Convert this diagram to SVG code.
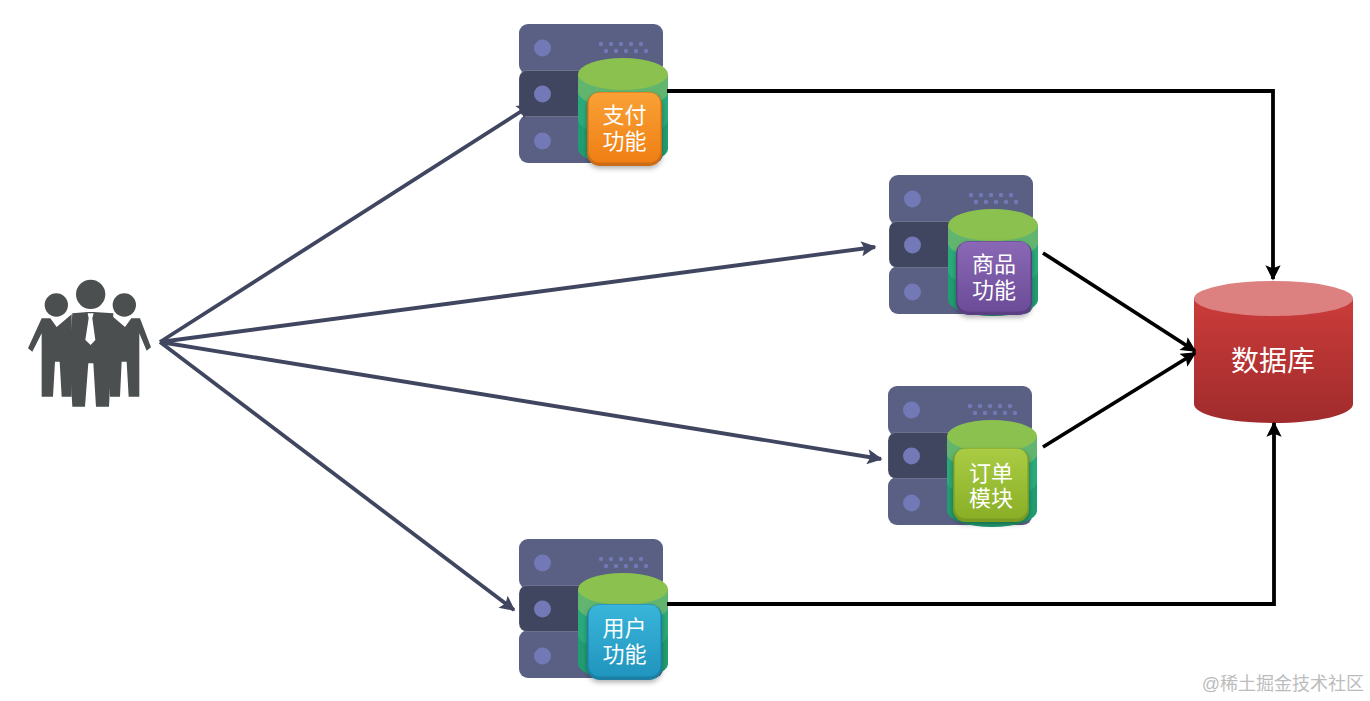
<svg xmlns="http://www.w3.org/2000/svg" xmlns:xlink="http://www.w3.org/1999/xlink" width="1370" height="701" viewBox="0 0 1370 701">
<style>
text{font-family:"Liberation Sans","Noto Sans CJK SC",sans-serif;fill:#fff;text-anchor:middle}
.t{font-size:22px}
.db{font-size:28px}
.wm{font-size:18px;fill:#bcbcbc;text-anchor:end}
.blue{fill:none;stroke:#40465f;stroke-width:3.8}
.blk{fill:none;stroke:#000;stroke-width:3.8}
.dot{fill:#7279b6}
.sm{fill:#7279b6}
.person{fill:#4b4f50}
</style>
<defs>
<marker id="ah" viewBox="0 0 10 10" refX="9" refY="5" markerWidth="4.6" markerHeight="4" orient="auto" markerUnits="strokeWidth"><path d="M0 0L10 5L0 10L2 5Z" fill="#40465f"/></marker>
<marker id="ak" viewBox="0 0 10 10" refX="9" refY="5" markerWidth="4.6" markerHeight="4" orient="auto" markerUnits="strokeWidth"><path d="M0 0L10 5L0 10L2 5Z" fill="#000"/></marker>
<linearGradient id="gO" x1="0" y1="0" x2="0" y2="1"><stop offset="0" stop-color="#f9a136"/><stop offset="1" stop-color="#ef7f14"/></linearGradient>
<linearGradient id="gP" x1="0" y1="0" x2="0" y2="1"><stop offset="0" stop-color="#8a68b5"/><stop offset="1" stop-color="#6c4c98"/></linearGradient>
<linearGradient id="gG" x1="0" y1="0" x2="0" y2="1"><stop offset="0" stop-color="#a9cc44"/><stop offset="1" stop-color="#8aaf27"/></linearGradient>
<linearGradient id="gB" x1="0" y1="0" x2="0" y2="1"><stop offset="0" stop-color="#3ab5da"/><stop offset="1" stop-color="#2095bf"/></linearGradient>
<linearGradient id="gR" x1="0" y1="0" x2="0" y2="1"><stop offset="0" stop-color="#cb3c3a"/><stop offset="1" stop-color="#a02b2c"/></linearGradient>
<filter id="sh" x="-20%" y="-20%" width="140%" height="140%"><feDropShadow dx="0" dy="2.500" stdDeviation="2.500" flood-color="#000" flood-opacity=".3"/></filter>
<g id="srv">
<rect x="0" y="0" width="144" height="50" rx="9" fill="#596084"/>
<rect x="0" y="91" width="144" height="48" rx="9" fill="#596084"/>
<rect x="0" y="46.500" width="144" height="46" rx="8" fill="#40465f" stroke="#fff" stroke-opacity=".18"/>
<circle class="dot" cx="23.500" cy="24" r="8.500"/>
<circle class="dot" cx="23.500" cy="70" r="8.500"/>
<circle class="dot" cx="23.500" cy="117" r="8.500"/>
<g class="sm"><circle cx="82" cy="20" r="2.200"/><circle cx="92" cy="20" r="2.200"/><circle cx="102" cy="20" r="2.200"/><circle cx="112" cy="20" r="2.200"/><circle cx="122" cy="20" r="2.200"/><circle cx="87" cy="27" r="2.200"/><circle cx="97" cy="27" r="2.200"/><circle cx="107" cy="27" r="2.200"/><circle cx="117" cy="27" r="2.200"/><circle cx="127" cy="27" r="2.200"/></g>
<path d="M59 50V125A45 16 0 0 0 149 125V50Z" fill="#209d70"/>
<path d="M59 50V96A45 16 0 0 0 149 96V50Z" fill="#2aaa7a"/>
<path d="M59 50V68A45 16 0 0 0 149 68V50Z" fill="#62b56f"/>
<ellipse cx="104" cy="50" rx="45" ry="16" fill="#8bc14f"/>
</g>
</defs>
<rect width="1370" height="701" fill="#fff"/>
<g id="users" transform="translate(15 265) scale(.3333)">
<circle class="person" cx="227" cy="88" r="44"/>
<circle class="person" cx="124" cy="120" r="35"/>
<circle class="person" cx="328" cy="120" r="35"/>
<path class="person" d="M80 160H106L125 186L170 148V395H140L134 290H120L114 395H80V205L52 260L39 250Z"/>
<path class="person" d="M375 160H349L330 186L285 148V395H315L320 290H335L341 395H373V205L395 257L408 247Z"/>
<path class="person" d="M172 145L218 141H236L295 145L290 270L282 425H243L235 295H220L210 425H172L163 265Z"/>
<path d="M218 145H236L232 160L241 225L227 240L211 225L221 160Z" fill="#fff"/>
</g>
<g id="pay"><use xlink:href="#srv" href="#srv" x="519" y="24"/>
<rect x="587" y="92" width="75" height="74" rx="13" fill="#cc6c12" filter="url(#sh)"/>
<rect x="588.500" y="92.500" width="72" height="70" rx="11" fill="url(#gO)"/>
<text class="t" x="624.500" y="123">支付</text><text class="t" x="624.500" y="149">功能</text></g>
<g id="goods"><use xlink:href="#srv" href="#srv" x="889" y="175"/>
<rect x="956" y="241" width="76" height="74" rx="13" fill="#5a3f82" filter="url(#sh)"/>
<rect x="957.500" y="241.500" width="73" height="70" rx="11" fill="url(#gP)"/>
<text class="t" x="994" y="272">商品</text><text class="t" x="994" y="298">功能</text></g>
<g id="order"><use xlink:href="#srv" href="#srv" x="888" y="386"/>
<rect x="953" y="448" width="76" height="74" rx="13" fill="#7a9a22" filter="url(#sh)"/>
<rect x="954.500" y="448.500" width="73" height="70" rx="11" fill="url(#gG)"/>
<text class="t" x="991" y="481">订单</text><text class="t" x="991" y="506">模块</text></g>
<g id="user"><use xlink:href="#srv" href="#srv" x="519" y="539"/>
<rect x="587" y="604" width="75" height="76" rx="13" fill="#1a7fa3" filter="url(#sh)"/>
<rect x="588.500" y="604.500" width="72" height="72" rx="11" fill="url(#gB)"/>
<text class="t" x="624.500" y="636">用户</text><text class="t" x="624.500" y="662">功能</text></g>
<g id="database">
<path d="M1194 298V404C1194 415 1230 423 1273.500 423S1353 415 1353 404V298Z" fill="url(#gR)"/>
<ellipse cx="1273.500" cy="298.500" rx="79.500" ry="17.500" fill="#dc8080"/>
<text class="db" x="1273" y="371">数据库</text>
</g>
<g id="connectors">
<path class="blue" marker-end="url(#ah)" d="M160 342L531 105"/>
<path class="blue" marker-end="url(#ah)" d="M160 342L875 247"/>
<path class="blue" marker-end="url(#ah)" d="M160 342L881 459"/>
<path class="blue" marker-end="url(#ah)" d="M160 342L514 610"/>
<path class="blk" marker-end="url(#ak)" d="M667 91H1273V279"/>
<path class="blk" marker-end="url(#ak)" d="M1043 253L1195 351"/>
<path class="blk" marker-end="url(#ak)" d="M1043 447L1195 353"/>
<path class="blk" marker-end="url(#ak)" d="M667 604H1274V423"/>
</g>
<text class="wm" x="1364" y="690">@稀土掘金技术社区</text>
</svg>
